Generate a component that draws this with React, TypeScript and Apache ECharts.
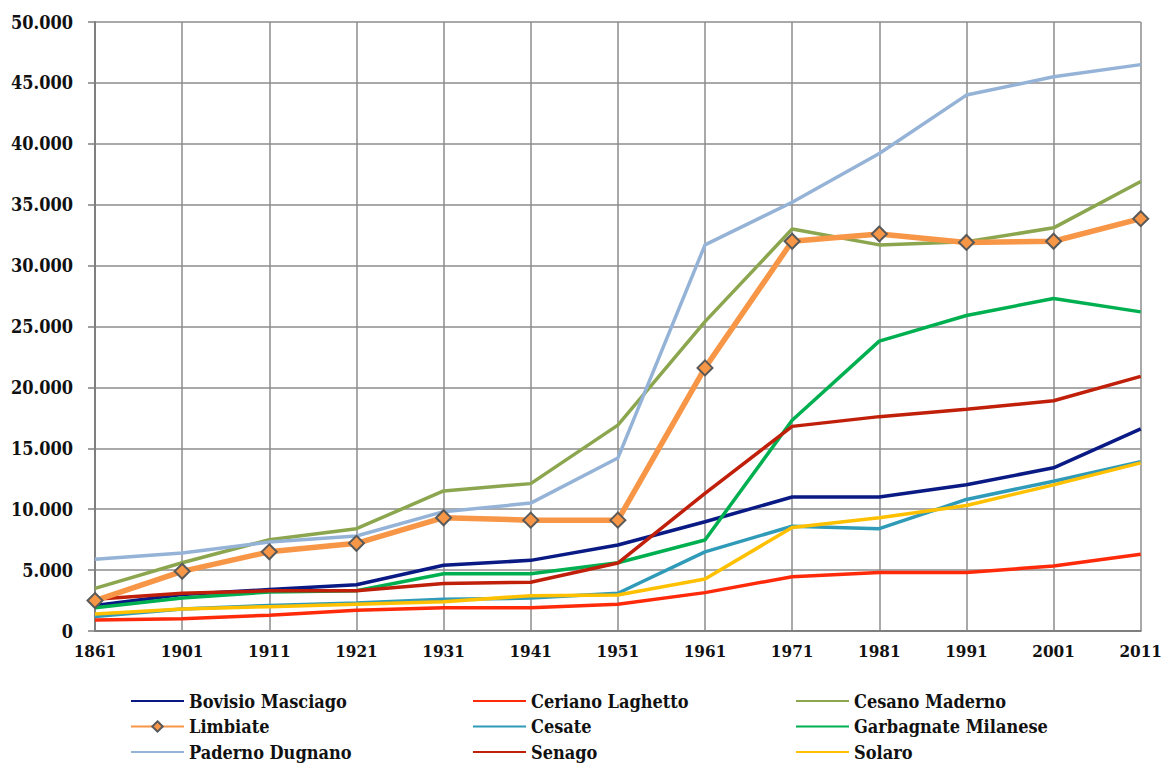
import React, { useEffect, useRef } from "react";
import * as echarts from "echarts";

const years = ["1861", "1901", "1911", "1921", "1931", "1941", "1951", "1961", "1971", "1981", "1991", "2001", "2011"];

const bovisio = [2100, 3000, 3400, 3800, 5400, 5800, 7060, 8970, 11000, 11000, 12000, 13400, 16600];
const ceriano = [900, 1000, 1300, 1700, 1900, 1900, 2200, 3150, 4460, 4800, 4800, 5330, 6300];
const cesano = [3500, 5600, 7500, 8400, 11500, 12100, 16900, 25400, 33000, 31700, 31950, 33100, 36900];
const limbiate = [2500, 4900, 6500, 7200, 9300, 9100, 9100, 21600, 32000, 32600, 31900, 32000, 33850];
const cesate = [1200, 1800, 2100, 2300, 2600, 2700, 3100, 6500, 8600, 8400, 10800, 12300, 13900];
const garbagnate = [1900, 2700, 3200, 3300, 4700, 4700, 5600, 7470, 17300, 23800, 25900, 27300, 26200];
const paderno = [5900, 6400, 7300, 7800, 9800, 10500, 14200, 31700, 35200, 39200, 44000, 45500, 46500];
const senago = [2600, 3100, 3300, 3300, 3900, 4000, 5580, 11300, 16800, 17600, 18200, 18900, 20900];
const solaro = [1400, 1800, 2000, 2200, 2400, 2900, 2950, 4270, 8500, 9300, 10300, 12000, 13800];

const seriesDefs = [
  { name: "Bovisio Masciago", data: bovisio, color: "#0A1A84" },
  { name: "Ceriano Laghetto", data: ceriano, color: "#FF2A0A" },
  { name: "Cesano Maderno", data: cesano, color: "#8BA64E" },
  { name: "Limbiate", data: limbiate, color: "#F79646" },
  { name: "Cesate", data: cesate, color: "#2F9BB8" },
  { name: "Garbagnate Milanese", data: garbagnate, color: "#00B050" },
  { name: "Paderno Dugnano", data: paderno, color: "#95B3D7" },
  { name: "Senago", data: senago, color: "#C0200A" },
  { name: "Solaro", data: solaro, color: "#FFC000" },
];

const legendCols = [
  ["Bovisio Masciago", "Limbiate", "Paderno Dugnano"],
  ["Ceriano Laghetto", "Cesate", "Senago"],
  ["Cesano Maderno", "Garbagnate Milanese", "Solaro"],
];
const legendLefts = [122, 464, 787];

const FONT = "'DejaVu Serif Condensed', 'DejaVu Serif', serif";

function fmt(v: number): string {
  const s = String(Math.round(v));
  return s.replace(/\B(?=(\d{3})+(?!\d))/g, ".");
}

export default function App() {
  const ref = useRef<HTMLDivElement>(null);
  useEffect(() => {
    if (!ref.current) return;
    const chart = echarts.init(ref.current, undefined, { renderer: "svg" });
    chart.setOption({
      animation: false,
      backgroundColor: "#ffffff",
      grid: { left: 87, top: 14, right: 17, bottom: 132, containLabel: false },
      xAxis: {
        type: "category",
        data: years,
        boundaryGap: false,
        axisLine: { show: true, lineStyle: { color: "#7f7f7f", width: 2 } },
        axisTick: { show: false },
        axisLabel: { color: "#111", fontFamily: FONT, fontWeight: "bold", fontSize: 17, margin: 11 },
        splitLine: { show: true, lineStyle: { color: "#8c8c8c", width: 1.5 } },
      },
      yAxis: {
        type: "value",
        min: 0,
        max: 50000,
        interval: 5000,
        axisLine: { show: true, lineStyle: { color: "#7f7f7f", width: 2 } },
        axisTick: { show: true, length: 7, lineStyle: { color: "#7f7f7f", width: 1.5 } },
        axisLabel: { color: "#111", fontFamily: FONT, fontWeight: "bold", fontSize: 18, margin: 22, formatter: (v: number) => fmt(v) },
        splitLine: { show: true, lineStyle: { color: "#8c8c8c", width: 1.5 } },
      },
      legend: legendCols.map((col, i) => ({
        orient: "vertical",
        left: legendLefts[i],
        top: 683,
        padding: 0,
        data: col.map((n) =>
          n === "Limbiate"
            ? { name: n }
            : { name: n, itemStyle: { color: "rgba(0,0,0,0)", borderColor: "rgba(0,0,0,0)", borderWidth: 0, opacity: 0 } }
        ),
        itemWidth: 53,
        itemHeight: 13,
        itemGap: 5.5,
        textStyle: { color: "#111", fontFamily: FONT, fontWeight: "bold", fontSize: 18, lineHeight: 20 },
      })),
      series: seriesDefs.map((s) => {
        const isLimb = s.name === "Limbiate";
        return {
          name: s.name,
          type: "line",
          data: s.data,
          color: s.color,
          symbol: isLimb ? "diamond" : "none",
          symbolSize: isLimb ? 15 : 0,
          showSymbol: isLimb,
          itemStyle: isLimb ? { color: "#F79646", borderColor: "#595959", borderWidth: 2 } : { color: s.color },
          lineStyle: { color: s.color, width: isLimb ? 5.5 : 3.5 },
          z: isLimb ? 3 : 2,
        };
      }),
    });
    return () => chart.dispose();
  }, []);
  return <div ref={ref} style={{ width: 1157, height: 755 }} />;
}
